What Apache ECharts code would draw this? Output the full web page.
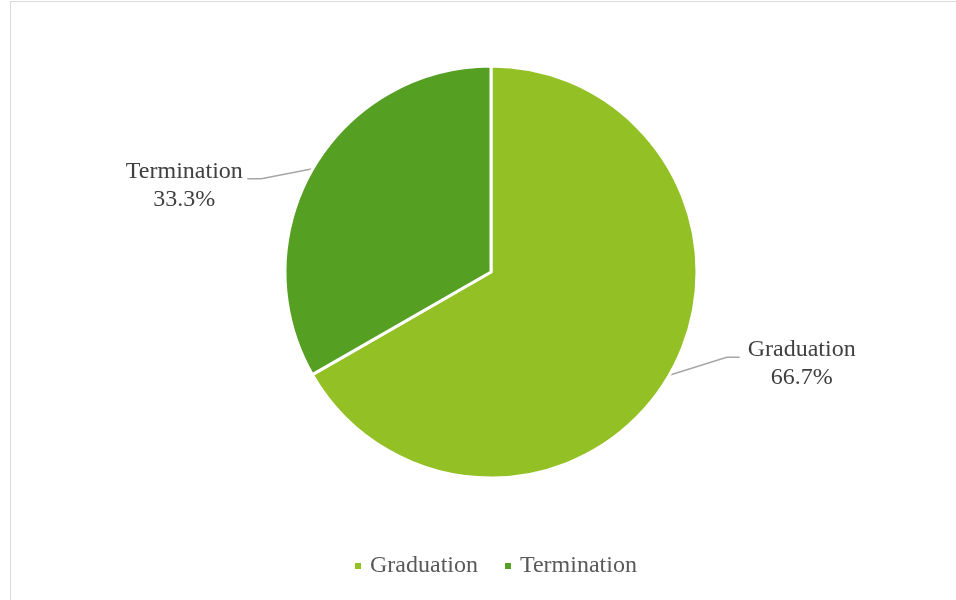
<!DOCTYPE html>
<html>

<head>
    <meta charset="utf-8" />
    <script src="https://cdn.jsdelivr.net/npm/echarts@6/dist/echarts.min.js"></script>
    <style>
        html, body { margin: 0; padding: 0; background: #fff; }
    </style>
</head>

<body>
    <div id="main" style="width: 956px; height: 600px;"></div>
    <script type="text/javascript">
        // data
        var categories = ['Graduation', 'Termination'];
        var shares = [66.7, 33.3];
        var colors = ['#93c125', '#55a022'];

        // label nudges (dx, dy) so the labels sit like the original
        var labelOffsets = [[15, -17], [-11, 23]];

        var chart = echarts.init(document.getElementById('main'));

        var pieData = categories.map(function (name, i) {
            return { name: name, value: shares[i], itemStyle: { color: colors[i] } };
        });

        var option = {
            animation: false,
            backgroundColor: '#ffffff',
            graphic: [
                // chart frame (left and top edges visible)
                { type: 'line', shape: { x1: 10.5, y1: 1.5, x2: 956, y2: 1.5 }, style: { stroke: '#d9d9d9', lineWidth: 1 } },
                { type: 'line', shape: { x1: 10.5, y1: 1.5, x2: 10.5, y2: 600 }, style: { stroke: '#d9d9d9', lineWidth: 1 } }
            ],
            legend: {
                bottom: 17,
                left: 348,
                itemWidth: 8,
                itemHeight: 8,
                itemGap: 25,
                icon: 'rect',
                textStyle: {
                    fontFamily: 'Liberation Serif',
                    fontSize: 24,
                    color: '#595959',
                    padding: [0, 0, 0, 3]
                },
                data: categories
            },
            series: [
                {
                    type: 'pie',
                    center: [491, 272],
                    radius: 206,
                    startAngle: 90,
                    clockwise: true,
                    itemStyle: { borderColor: '#ffffff', borderWidth: 3 },
                    label: {
                        show: true,
                        fontFamily: 'Liberation Serif',
                        fontSize: 24,
                        color: '#404040',
                        lineHeight: 28,
                        distanceToLabelLine: 3,
                        formatter: function (p) {
                            return '{t|' + p.name + '}\n{t|' + p.percent.toFixed(1) + '%}';
                        },
                        rich: {
                            t: {
                                fontFamily: 'Liberation Serif',
                                fontSize: 24,
                                color: '#404040',
                                lineHeight: 28,
                                width: 118,
                                align: 'center'
                            }
                        }
                    },
                    labelLine: {
                        show: true,
                        length: 12,
                        length2: 45,
                        lineStyle: { color: '#a6a6a6', width: 1.5 }
                    },
                    labelLayout: function (p) {
                        var off = labelOffsets[p.dataIndex];
                        var r = p.labelRect;
                        var p0 = p.labelLinePoints[0];
                        var nx = r.x + off[0];
                        var ny = r.y + off[1];
                        var onLeft = nx + r.width < p0[0];
                        var ey = ny + 21;
                        var ex = onLeft ? nx + r.width + 4 : nx - 3;
                        var mx = onLeft ? ex + 14 : ex - 13;
                        return {
                            dx: off[0],
                            dy: off[1],
                            labelLinePoints: [p0, [mx, ey], [ex, ey]]
                        };
                    },
                    emphasis: { disabled: true },
                    data: pieData
                }
            ]
        };

        chart.setOption(option);
    </script>
</body>

</html>
